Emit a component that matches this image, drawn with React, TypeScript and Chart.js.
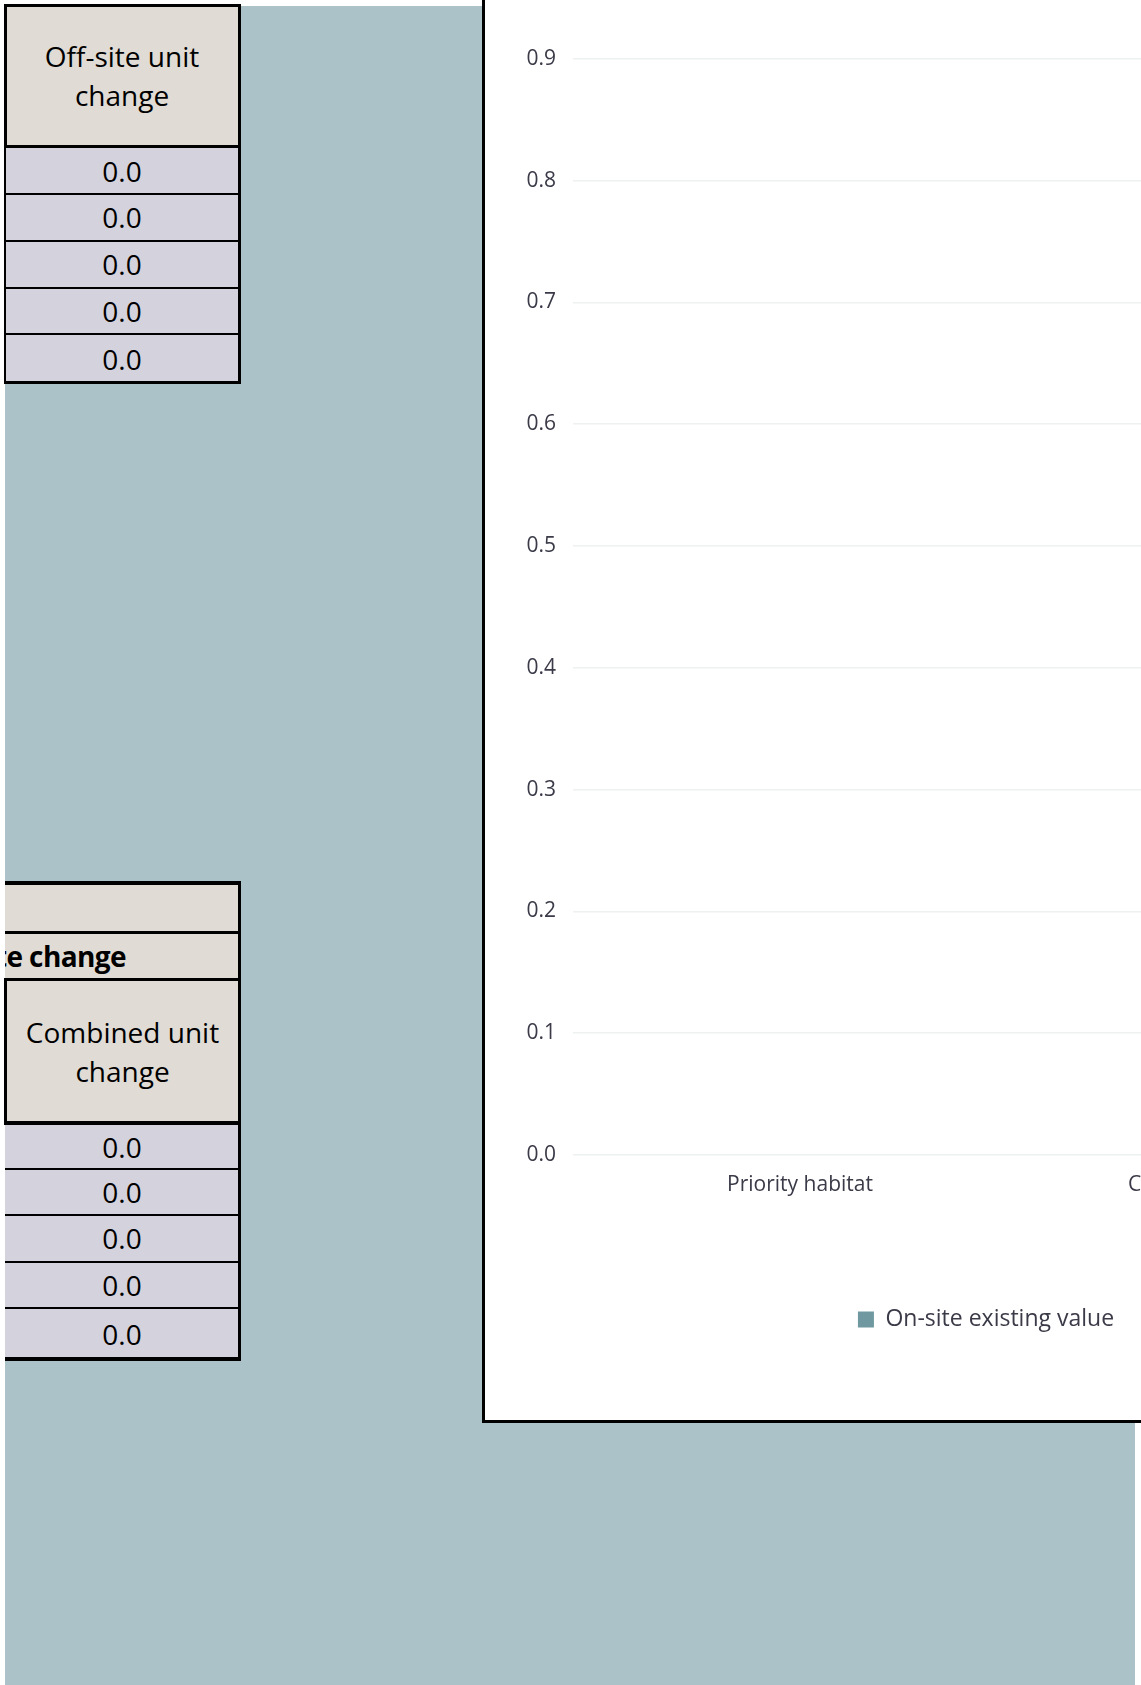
import React, { useEffect, useRef } from "react";
import { Chart, registerables } from "chart.js";

Chart.register(...registerables);

// ---- data ----
const categories = ["Priority habitat", "Combined habitat change"];
const onSiteExistingValue = [0, 0];
const seriesLabel = "On-site existing value";
const yMin = 0;
const yMax = 1;
const yStep = 0.1;

const offSiteHeader = ["Off-site unit", "change"];
const offSiteUnitChange = [0, 0, 0, 0, 0];
const combinedGroupHeader = "Combined on-site and off-site change";
const combinedHeader = ["Combined unit", "change"];
const combinedUnitChange = [0, 0, 0, 0, 0];

// ---- styles ----
const BLUE = "#ABC2C8";
const BEIGE = "#E0DCD5";
const LAV = "#D4D3DD";
const FONT = "'Open Sans', 'Noto Sans', sans-serif";
const TEXT_DARK = "#3A3A48";

type R = { l: number; t: number; w: number; h: number };
const box = (r: R, bg: string, extra: React.CSSProperties = {}) => (
  <div
    style={{
      position: "absolute",
      left: r.l,
      top: r.t,
      width: r.w,
      height: r.h,
      background: bg,
      ...extra,
    }}
  />
);

function CellText({ r, lines, bold }: { r: R; lines: string[]; bold?: boolean }) {
  return (
    <div
      style={{
        position: "absolute",
        left: r.l,
        top: r.t,
        width: r.w,
        height: r.h,
        display: "flex",
        flexDirection: "column",
        alignItems: "center",
        justifyContent: "center",
        fontFamily: FONT,
        fontSize: 28,
        lineHeight: "39px",
        fontWeight: bold ? 700 : 400,
        color: "#000",
        whiteSpace: "nowrap",
      }}
    >
      {lines.map((s, i) => (
        <div key={i}>{s}</div>
      ))}
    </div>
  );
}

function ChartBox() {
  const ref = useRef<HTMLCanvasElement | null>(null);
  useEffect(() => {
    if (!ref.current) return;
    const chart = new Chart(ref.current, {
      type: "bar",
      data: {
        labels: categories,
        datasets: [
          {
            label: seriesLabel,
            data: onSiteExistingValue,
            backgroundColor: "#6F98A1",
            borderWidth: 0,
          },
        ],
      },
      options: {
        responsive: false,
        animation: false,
        devicePixelRatio: 1,
        layout: { padding: { left: 6, right: 0, top: 37, bottom: 79 } },
        plugins: {
          legend: {
            position: "bottom",
            labels: {
              boxWidth: 16,
              boxHeight: 16,
              padding: 98,
              color: TEXT_DARK,
              font: { family: FONT, size: 23 },
            },
          },
          tooltip: { enabled: false },
        },
        scales: {
          x: {
            grid: { display: false },
            border: { display: false },
            ticks: {
              color: TEXT_DARK,
              font: { family: FONT, size: 21 },
              padding: 9,
              maxRotation: 0,
              autoSkip: false,
            },
            afterFit: (s: any) => {
              s.height = 55;
            },
          },
          y: {
            min: yMin,
            max: yMax,
            ticks: {
              stepSize: yStep,
              callback: (v: any) => Number(v).toFixed(1),
              padding: 17,
              color: TEXT_DARK,
              font: { family: FONT, size: 21 },
            },
            grid: { color: "#EDF1F1", lineWidth: 1.5, drawTicks: false },
            border: { display: false },
            afterFit: (s: any) => {
              s.width = 82;
            },
          },
        },
      } as any,
    });
    return () => chart.destroy();
  }, []);
  return (
    <div
      style={{
        position: "absolute",
        left: 482,
        top: -100,
        width: 700,
        height: 1520,
        borderLeft: "3px solid #000",
        borderBottom: "3px solid #000",
        background: "#fff",
        overflow: "hidden",
      }}
    >
      <canvas ref={ref} width={996} height={1520} style={{ display: "block", width: 996, height: 1520 }} />
    </div>
  );
}

export default function App() {
  const topRows = [148, 194, 241, 288, 334, 384];
  const botRows = [1125, 1169, 1215, 1262, 1308, 1361];
  return (
    <div
      style={{
        position: "absolute",
        left: 0,
        top: 0,
        width: 1141,
        height: 1685,
        overflow: "hidden",
        background: "#fff",
      }}
    >
      {box({ l: 5, t: 6, w: 1130, h: 1679 }, BLUE)}

      {/* top table */}
      {box({ l: 5, t: 4, w: 236, h: 144 }, BEIGE)}
      {box({ l: 5, t: 148, w: 236, h: 236 }, LAV)}
      <CellText r={{ l: 5, t: 6, w: 234, h: 140 }} lines={offSiteHeader} />
      {offSiteUnitChange.map((v, i) => (
        <CellText
          key={"o" + i}
          r={{ l: 5, t: topRows[i], w: 234, h: topRows[i + 1] - topRows[i] }}
          lines={[v.toFixed(1)]}
        />
      ))}
      {box({ l: 4, t: 4, w: 237, h: 3 }, "#000")}
      {box({ l: 4, t: 4, w: 3, h: 144 }, "#000")}
      {box({ l: 4, t: 148, w: 2, h: 236 }, "#000")}
      {box({ l: 238, t: 4, w: 3, h: 380 }, "#000")}
      {box({ l: 4, t: 145, w: 237, h: 3 }, "#000")}
      {topRows.slice(1, 5).map((y, i) => (
        <React.Fragment key={"tl" + i}>{box({ l: 4, t: y - 1, w: 237, h: 2 }, "#000")}</React.Fragment>
      ))}
      {box({ l: 4, t: 381, w: 237, h: 3 }, "#000")}

      {/* bottom table */}
      {box({ l: 5, t: 881, w: 236, h: 244 }, BEIGE)}
      {box({ l: 5, t: 1125, w: 236, h: 236 }, LAV)}
      <div
        style={{
          position: "absolute",
          left: 5,
          top: 934,
          width: 233,
          height: 44,
          overflow: "hidden",
        }}
      >
        <div
          style={{
            position: "absolute",
            right: 233 - 121,
            top: 0,
            height: 44,
            lineHeight: "44px",
            fontFamily: FONT,
            fontSize: 28,
            fontWeight: 700,
            letterSpacing: "-0.6px",
            color: "#000",
            whiteSpace: "nowrap",
          }}
        >
          {combinedGroupHeader}
        </div>
      </div>
      <CellText r={{ l: 6, t: 981, w: 233, h: 141 }} lines={combinedHeader} />
      {combinedUnitChange.map((v, i) => (
        <CellText
          key={"c" + i}
          r={{ l: 5, t: botRows[i], w: 234, h: botRows[i + 1] - botRows[i] }}
          lines={[v.toFixed(1)]}
        />
      ))}
      {box({ l: 5, t: 881, w: 236, h: 4 }, "#000")}
      {box({ l: 5, t: 931, w: 236, h: 3 }, "#000")}
      {box({ l: 5, t: 978, w: 236, h: 3 }, "#000")}
      {box({ l: 4, t: 978, w: 3, h: 147 }, "#000")}
      {box({ l: 5, t: 1121, w: 236, h: 4 }, "#000")}
      {botRows.slice(1, 5).map((y, i) => (
        <React.Fragment key={"bl" + i}>{box({ l: 5, t: y - 1, w: 236, h: 2 }, "#000")}</React.Fragment>
      ))}
      {box({ l: 5, t: 1357, w: 236, h: 4 }, "#000")}
      {box({ l: 238, t: 881, w: 3, h: 480 }, "#000")}

      <ChartBox />
    </div>
  );
}
